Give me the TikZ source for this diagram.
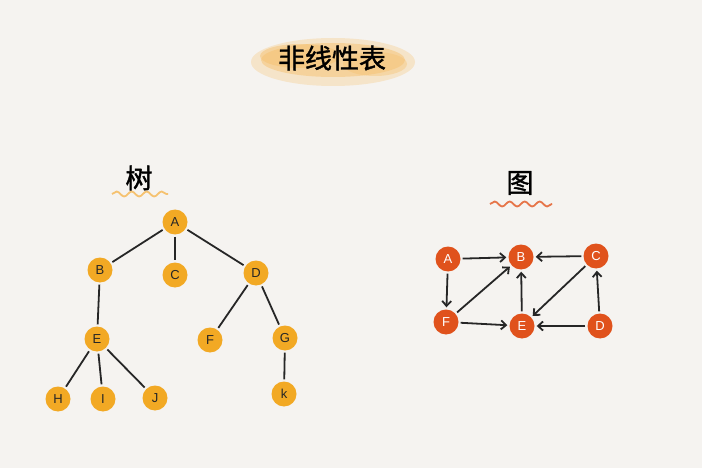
\documentclass[tikz,border=0pt]{standalone}
\usepackage{fontspec}
\setsansfont{Liberation Sans}
\newfontfamily\cjk[FakeBold=1.5]{Noto Sans CJK SC}
\usepackage{tikz}
\usetikzlibrary{positioning,arrows.meta,decorations.pathmorphing}
\definecolor{paper}{HTML}{F5F3F0}
\definecolor{treenode}{HTML}{F2A924}
\definecolor{graphnode}{HTML}{E0521C}
\definecolor{brush}{HTML}{F5C270}
\tikzset{
node distance=4cm, % default spacing
tnode/.style={circle, fill=treenode, minimum size=25pt, inner sep=0pt, font=\sffamily\fontsize{13}{13}\selectfont, text=black!85},
gnode/.style={circle, fill=graphnode, minimum size=25pt, inner sep=0pt, font=\sffamily\fontsize{13}{13}\selectfont, text=white},
link/.style={line width=1.8pt, black!85, shorten >=2pt, shorten <=2pt},
wave/.style={decorate, decoration={snake, amplitude=2.5pt, segment length=15pt}, line width=1.8pt},
}

\begin{document}
\begin{tikzpicture}[x=1pt,y=-1pt]
   \fill[paper] (0,0) rectangle (702,468);
   % title with brush stroke
   \fill[brush, opacity=0.3] (333,62) ellipse (82pt and 24pt);
   \fill[brush, opacity=0.5] (333,60) ellipse (72pt and 17pt);
   \fill[brush, opacity=0.5] (300,56) ellipse (40pt and 12pt);
   \fill[brush, opacity=0.4] (375,64) ellipse (32pt and 12pt);
   \node (title) at (332,58) {\cjk\fontsize{27}{27}\selectfont 非线性表};
   % tree
   \node (treelabel) at (139,178) {\cjk\fontsize{27}{27}\selectfont 树};
   \draw[wave, brush] (112,194) -- (168,194);
   \node[tnode] (t_a) at (175,222) {A};
   \node[tnode] (t_b) at (100,270) {B};
   \node[tnode] (t_c) at (175,275) {C};
   \node[tnode] (t_d) at (256,273) {D};
   \node[tnode] (t_e) at (97,339)  {E};
   \node[tnode] (t_f) at (210,340) {F};
   \node[tnode] (t_g) at (285,338) {G};
   \node[tnode] (t_h) at (58,399)  {H};
   \node[tnode] (t_i) at (103,399) {I};
   \node[tnode] (t_j) at (155,398) {J};
   \node[tnode] (t_k) at (284,394) {k};
   \path[link]
   (t_a) edge (t_b)
   (t_a) edge (t_c)
   (t_a) edge (t_d)
   (t_b) edge (t_e)
   (t_d) edge (t_f)
   (t_d) edge (t_g)
   (t_e) edge (t_h)
   (t_e) edge (t_i)
   (t_e) edge (t_j)
   (t_g) edge (t_k);
   % graph
   \node (graphlabel) at (520,183) {\cjk\fontsize{27}{27}\selectfont 图};
   \draw[wave, graphnode!80] (490,204) -- (552,204);
   \node[gnode] (g_a) at (448,259) {A};
   \node[gnode] (g_b) at (521,257) {B};
   \node[gnode] (g_c) at (596,256) {C};
   \node[gnode] (g_f) at (446,322) {F};
   \node[gnode] (g_e) at (522,326) {E};
   \node[gnode] (g_d) at (600,326) {D};
   \path[link, -{Straight Barb[length=5pt,width=9pt]}]
   (g_a) edge (g_b)
   (g_c) edge (g_b)
   (g_a) edge (g_f)
   (g_f) edge (g_b)
   (g_e) edge (g_b)
   (g_c) edge (g_e)
   (g_f) edge (g_e)
   (g_d) edge (g_e)
   (g_d) edge (g_c);
\end{tikzpicture}
\end{document}
